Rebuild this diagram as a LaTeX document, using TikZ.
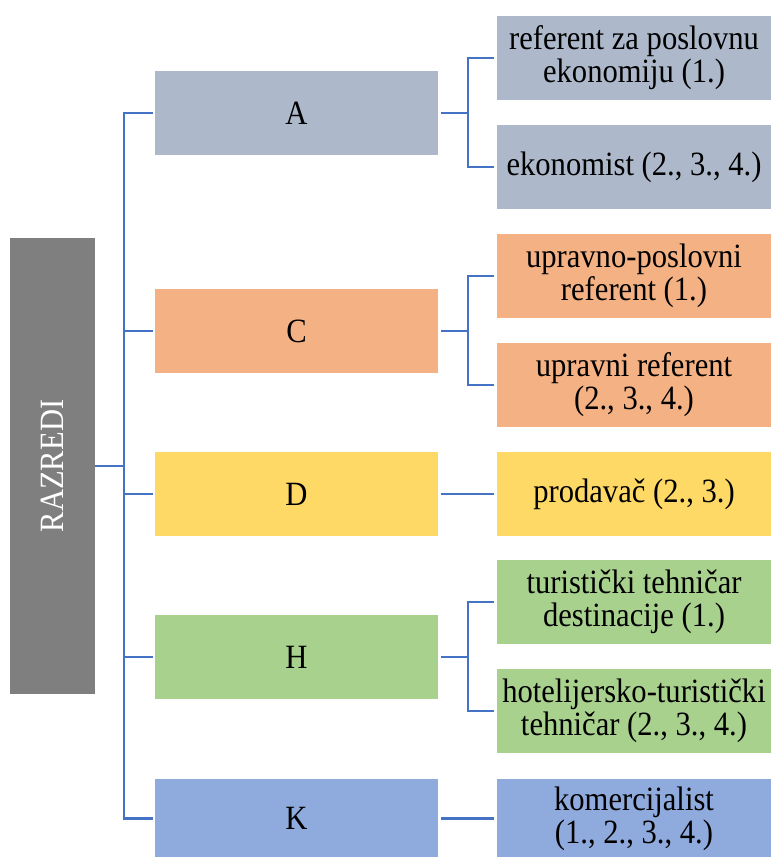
\documentclass[tikz,border=0pt]{standalone}
\usepackage{fontspec}
\setmainfont[FakeStretch=0.9]{Liberation Serif}
\usepackage{tikz}
\usetikzlibrary{positioning}
\definecolor{sivaA}{HTML}{ADB9CA}
\definecolor{narancC}{HTML}{F4B183}
\definecolor{zutaD}{HTML}{FFD966}
\definecolor{zelenaH}{HTML}{A9D18E}
\definecolor{plavaK}{HTML}{8FAADC}
\definecolor{sivaR}{HTML}{7F7F7F}
\definecolor{linija}{HTML}{4472C4}
\tikzstyle{razred} = [rectangle, minimum width=85pt, minimum height=456pt, fill=sivaR, text=white, inner sep=0pt]
\tikzstyle{smjer} = [rectangle, minimum width=283pt, minimum height=84pt, text centered, inner sep=0pt, outer sep=2.5pt]
\tikzstyle{zanimanje} = [rectangle, minimum width=275pt, minimum height=84pt, align=center, inner sep=0pt, outer sep=2.5pt]
\tikzstyle{veza} = [line width=2.5pt, draw=linija]

\begin{document}
\begin{tikzpicture}[x=1pt, y=-1pt, font=\rmfamily\fontsize{34}{33}\selectfont]
        \useasboundingbox (0,0) rectangle (771,857);

        % Razredi (lijevi stupac)
        \node (razredi) [razred] at (52.5,466) {\rotatebox{90}{RAZREDI}};

        % Smjerovi
        \node (A) [smjer, fill=sivaA] at (296.5,113) {A};
        \node (C) [smjer, fill=narancC] at (296.5,331) {C};
        \node (D) [smjer, fill=zutaD] at (296.5,494) {D};
        \node (H) [smjer, fill=zelenaH] at (296.5,657) {H};
        \node (K) [smjer, fill=plavaK, minimum height=79pt] at (296.5,818.5) {K};

        % Zanimanja
        \node (A1) [zanimanje, fill=sivaA] at (634,58) {referent za poslovnu\\ekonomiju (1.)};
        \node (A2) [zanimanje, fill=sivaA] at (634,167) {ekonomist (2., 3., 4.)};
        \node (C1) [zanimanje, fill=narancC] at (634,276) {upravno-poslovni\\referent (1.)};
        \node (C2) [zanimanje, fill=narancC] at (634,385) {upravni referent\\(2., 3., 4.)};
        \node (D1) [zanimanje, fill=zutaD] at (634,494) {prodavač (2., 3.)};
        \node (H1) [zanimanje, fill=zelenaH] at (634,602) {turistički tehničar\\destinacije (1.)};
        \node (H2) [zanimanje, fill=zelenaH] at (634,711) {hotelijersko-turistički\\tehničar (2., 3., 4.)};
        \node (K1) [zanimanje, fill=plavaK, minimum height=79pt] at (634,818.5) {komercijalist\\(1., 2., 3., 4.)};

        % Veze od razreda do smjerova
        \coordinate (os) at (124,0);
        \coordinate (os2) at (468,0);
        \draw [veza] (razredi.east) -- (razredi.east -| os);
        \draw [veza] (A.west) -- (A.west -| os) -- (K.west -| os) -- (K.west);
        \foreach \s in {C,D,H}
            \draw [veza] (\s.west -| os) -- (\s.west);

        % Veze od smjerova do zanimanja
        \foreach \s/\p/\d in {A/A1/A2, C/C1/C2, H/H1/H2} {
            \draw [veza] (\s.east) -- (\s.east -| os2);
            \draw [veza] (\p.west) -- (\p.west -| os2) -- (\d.west -| os2) -- (\d.west);
        }
        \draw [veza] (D.east) -- (D1.west);
        \draw [veza] (K.east) -- (K1.west);

\end{tikzpicture}
\end{document}
